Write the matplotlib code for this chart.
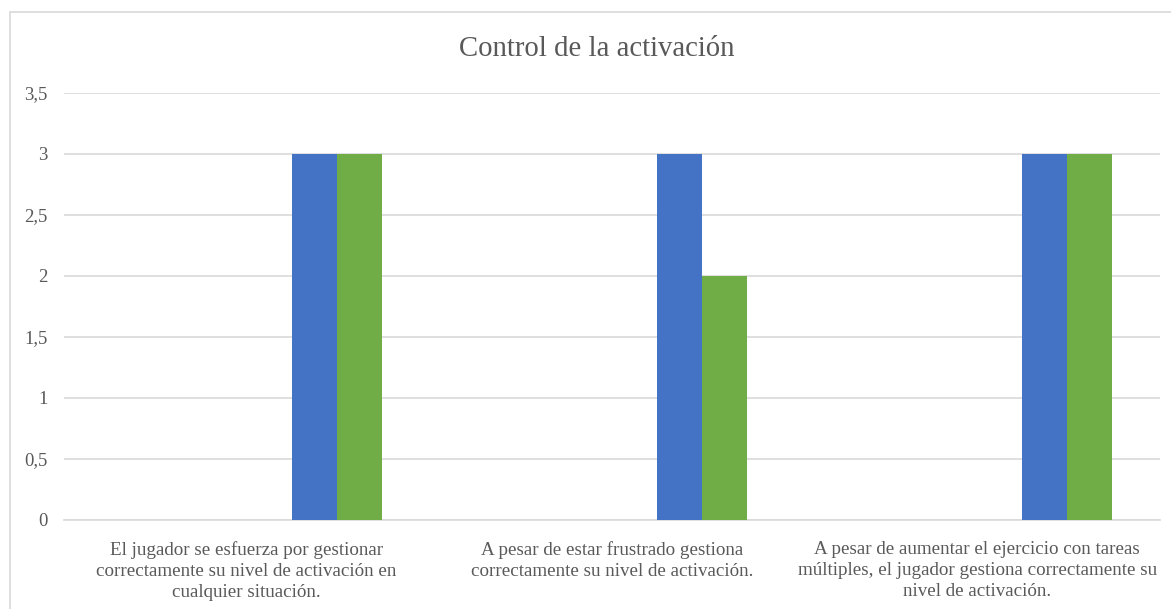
import matplotlib
matplotlib.use("Agg")
import matplotlib.pyplot as plt
import numpy as np
from matplotlib.patches import Rectangle

title = "Control de la activación"
categories = [
    "El jugador se esfuerza por gestionar\ncorrectamente su nivel de activación en\ncualquier situación.",
    "A pesar de estar frustrado gestiona\ncorrectamente su nivel de activación.",
    "A pesar de aumentar el ejercicio con tareas\nmúltiples, el jugador gestiona correctamente su\nnivel de activación.",
]
# six series per category; only the last two carry values
series_values = [
    [0, 0, 0],
    [0, 0, 0],
    [0, 0, 0],
    [0, 0, 0],
    [3, 3, 3],
    [3, 2, 3],
]
series_colors = ["#4472C4", "#ED7D31", "#A5A5A5", "#FFC000", "#4472C4", "#70AD47"]
yticks = [0, 0.5, 1, 1.5, 2, 2.5, 3, 3.5]

plt.rcParams["font.family"] = ["Liberation Serif", "DejaVu Serif"]
text_color = "#595959"
grid_color = "#D9D9D9"

W, H = 1171, 609
fig = plt.figure(figsize=(W / 100, H / 100), dpi=100)
fig.patch.set_facecolor("white")

# chart-area frame
fig.patches.append(Rectangle((10 / W, -0.1), 1.2, 1 - 12 / H + 0.1,
                             transform=fig.transFigure, fill=False,
                             edgecolor=grid_color, linewidth=1.2))

ax = fig.add_axes([64 / W, 1 - 520 / H, (1160 - 64) / W, (520 - 93) / H])
x = np.arange(len(categories))
n = len(series_values)
bw = 0.1232
for i, (vals, col) in enumerate(zip(series_values, series_colors)):
    offs = (i - (n - 1) / 2) * bw
    v = np.array(vals, dtype=float)
    mask = v > 0
    ax.bar(x[mask] + offs, v[mask], width=bw, color=col, linewidth=0, zorder=3)

ax.set_xlim(-0.5, len(categories) - 0.5)
ax.set_ylim(0, 3.5)
ax.set_yticks(yticks)
ax.set_yticklabels([("%g" % t).replace(".", ",") for t in yticks],
                   fontsize=13.5, color=text_color)
ax.set_xticks(x)
ax.set_xticklabels(categories, fontsize=13.7, color=text_color, linespacing=1.33)
ax.tick_params(axis="both", length=0)
ax.tick_params(axis="y", pad=12)
ax.tick_params(axis="x", pad=15)
ax.grid(axis="y", color=grid_color, linewidth=1.2, zorder=0)
for s in ["top", "right", "left"]:
    ax.spines[s].set_visible(False)
ax.spines["bottom"].set_color(grid_color)
ax.spines["bottom"].set_linewidth(1.2)

fig.text(597 / W, 1 - 49 / H, title, ha="center", va="center",
         fontsize=20.7, color=text_color)

fig.savefig("out.png", dpi=100, facecolor="white")
